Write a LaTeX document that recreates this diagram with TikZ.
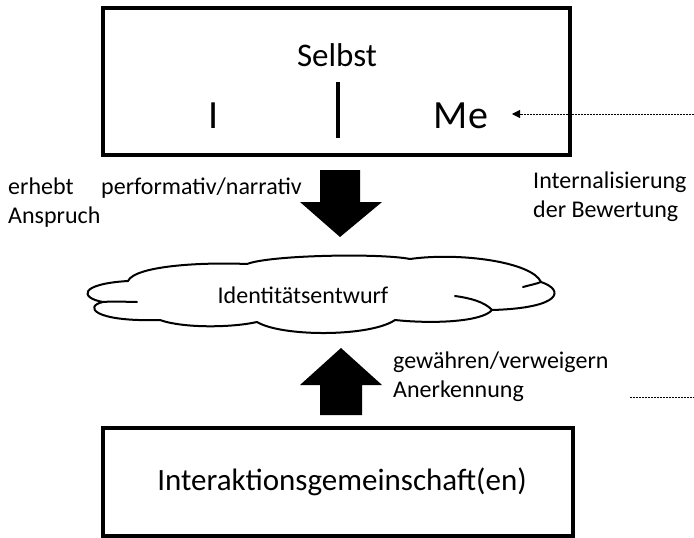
\documentclass[tikz,border=0pt]{standalone}
\usepackage{fontspec}
\setmainfont{Carlito}
\usepackage{tikz}
\usetikzlibrary{arrows.meta}

\tikzset{
  kasten/.style={draw, line width=3.5pt},
  txt/.style={font=\fontsize{24}{29}\selectfont, inner sep=0pt},
  blockpfeil/.style={fill=black},
  fein/.style={line width=0.8pt, dash pattern=on 2pt off 1pt},
  wolkenlinie/.style={line width=2pt, line cap=round, line join=round},
}

\begin{document}
\begin{tikzpicture}[x=1pt,y=-1pt]
		\useasboundingbox (0,0) rectangle (694,538);
		%% Selbst: I | Me
		\draw[kasten] (103,8) rectangle (570,155);
		\node[txt, font=\fontsize{33}{38}\selectfont] (selbst) at (337,55) {Selbst};
		\node[txt, font=\fontsize{40}{46}\selectfont] (ich) at (214,116) {I};
		\node[txt, font=\fontsize{40}{46}\selectfont] (me) at (461,116) {Me};
		\draw[line width=4pt] (338,82) -- (338,138);

		%% Internalisierung
		\coordinate (rechtsoben) at (694,114);
		\coordinate (meziel) at (512,114);
		\draw[fein, -{Triangle[length=8pt,width=8pt]}] (rechtsoben) -- (meziel);
		\node[txt, align=left, anchor=north west] (intern) at (533,172)
		{Internalisierung\\der Bewertung};

		%% Anspruch, performativ/narrativ
		\node[txt, align=left, anchor=north west] (anspruch) at (8,178) {erhebt\\Anspruch};
		\node[txt, anchor=north west] (perform) at (101,178) {performativ/narrativ};
		\fill[blockpfeil] (320,170) -- (360,170) -- (360,202) -- (382,202)
			-- (340,237) -- (300,202) -- (320,202) -- cycle;

		%% Identitaetsentwurf (Wolke)
		\draw[wolkenlinie] (103,302)
			.. controls (80,298) and (78,284) .. (128,281)
			.. controls (135,266) and (200,262) .. (247,264)
			.. controls (270,255) and (380,253) .. (410,259)
			.. controls (460,252) and (532,262) .. (541,282)
			.. controls (565,290) and (562,308) .. (492,310)
			.. controls (482,322) and (432,324) .. (395,320)
			.. controls (370,337) and (282,337) .. (257,322)
			.. controls (230,328) and (182,328) .. (160,320)
			.. controls (92,322) and (84,306) .. cycle;
		%% Innenboegen
		\draw[wolkenlinie] (103,302) .. controls (115,301) and (128,302) .. (137,302);
		\draw[wolkenlinie] (523,287) .. controls (530,285) and (536,284) .. (541,282);
		\draw[wolkenlinie] (455,296) .. controls (470,298) and (485,302) .. (492,310);
		\node[txt] (entwurf) at (303,295) {Identitätsentwurf};

		%% Anerkennung
		\fill[blockpfeil] (320,415) -- (362,415) -- (362,385) -- (382,385)
			-- (341,348) -- (300,385) -- (320,385) -- cycle;
		\node[txt, align=left, anchor=north west] (anerkennung) at (393,352)
		{gewähren/verweigern\\Anerkennung};
		\coordinate (strichlinks) at (630,397);
		\coordinate (strichrechts) at (694,397);
		\draw[fein] (strichlinks) -- (strichrechts);

		%% Interaktionsgemeinschaft(en)
		\draw[kasten] (103,428) rectangle (573,536);
		\node[txt, font=\fontsize{31}{36}\selectfont] (gemeinschaft) at (342,482)
		{Interaktionsgemeinschaft(en)};
	\end{tikzpicture}
\end{document}
